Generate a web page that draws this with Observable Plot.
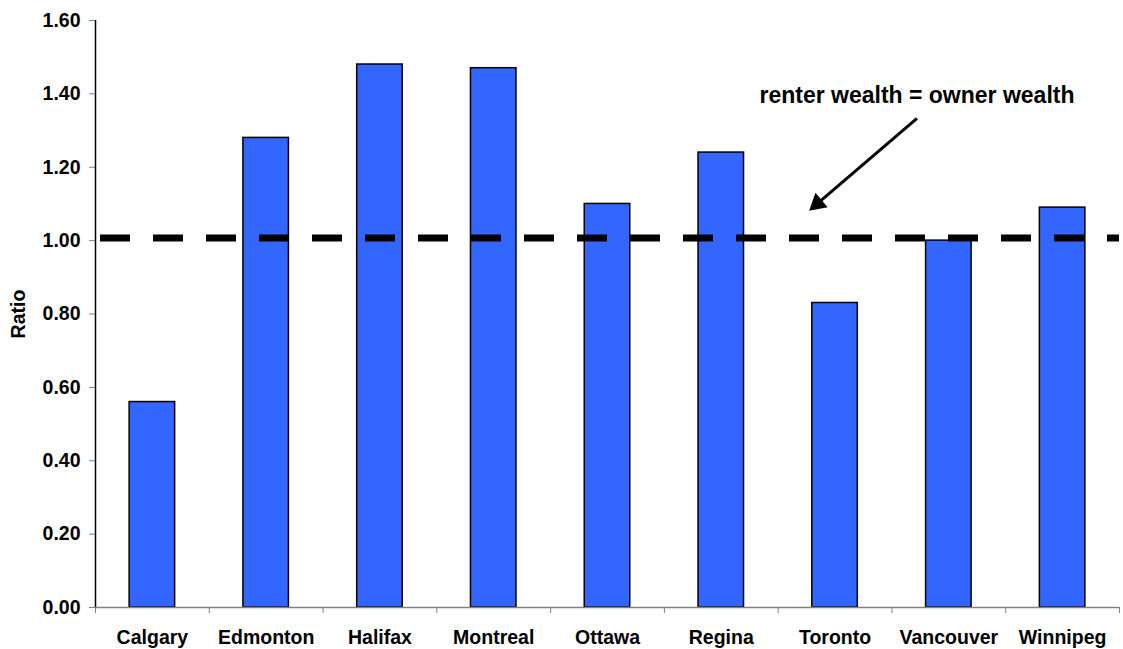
<!DOCTYPE html>
<html>
<head>
<meta charset="utf-8">
<script src="https://cdn.jsdelivr.net/npm/d3@7"></script>
<script src="https://cdn.jsdelivr.net/npm/@observablehq/plot@0.6"></script>
<style>
  html, body { margin: 0; padding: 0; background: #fff; }
</style>
</head>
<body>
<div id="chart"></div>
<script>
const cities = ["Calgary", "Edmonton", "Halifax", "Montreal", "Ottawa", "Regina", "Toronto", "Vancouver", "Winnipeg"];
const ratios = [0.56, 1.28, 1.48, 1.47, 1.10, 1.24, 0.83, 1.00, 1.09];
const yTicks = [0, 0.2, 0.4, 0.6, 0.8, 1.0, 1.2, 1.4, 1.6];
const parityLevel = [1.007];
const noteText = ["renter wealth = owner wealth"];
const noteX = [7.22];
const noteY = [1.395];
const arrowStart = [7.22, 1.333];
const arrowBase = [6.36, 1.105];
const arrowHead = [6.345, 1.101];

const data = cities.map((city, i) => ({city, i, ratio: ratios[i]}));
const boundaries = d3.range(cities.length + 1);
const centers = cities.map((_, i) => i + 0.5);

const chart = Plot.plot({
  width: 1123,
  height: 649,
  marginLeft: 95,
  marginRight: 4,
  marginTop: 20,
  marginBottom: 42,
  x: {type: "linear", domain: [0, cities.length]},
  y: {domain: [0, 1.6]},
  style: {
    fontFamily: "'Liberation Sans', Arial, sans-serif",
    fontWeight: "bold",
    fontSize: "19.5px",
    color: "black",
    background: "white"
  },
  marks: [
    Plot.rectY(data, {x1: d => d.i + 0.3, x2: d => d.i + 0.7, y1: 0, y2: "ratio", fill: "#3366FF", stroke: "black", strokeWidth: 1.5}),
    Plot.ruleY([0], {stroke: "#808080", strokeWidth: 1.5}),
    Plot.ruleX([0], {stroke: "black", strokeWidth: 1.5}),
    Plot.axisY({ticks: yTicks, tickFormat: d3.format(".2f"), tickSize: 6, tickPadding: 9, stroke: "#808080",
      label: "Ratio", labelAnchor: "center", labelArrow: "none", labelOffset: 84}),
    Plot.axisX({ticks: boundaries, tickFormat: () => "", tickSize: 6, stroke: "#808080", label: null}),
    Plot.axisX({ticks: centers, tickFormat: v => cities[Math.floor(v)], tickSize: 0, tickPadding: 23, label: null}),
    Plot.ruleY(parityLevel, {stroke: "black", strokeWidth: 7, strokeDasharray: "30,23", strokeDashoffset: -5}),
    Plot.link([0], {x1: () => arrowStart[0], y1: () => arrowStart[1], x2: () => arrowBase[0], y2: () => arrowBase[1], stroke: "black", strokeWidth: 3}),
    Plot.dot([0], {x: () => arrowHead[0], y: () => arrowHead[1], symbol: "triangle", r: 7, fill: "black", stroke: "none", rotate: 229.6}),
    Plot.text(noteText, {x: () => noteX[0], y: () => noteY[0], text: d => d, fontSize: 23, fontWeight: "bold", textAnchor: "middle"})
  ]
});

document.getElementById("chart").appendChild(chart);
</script>
</body>
</html>
